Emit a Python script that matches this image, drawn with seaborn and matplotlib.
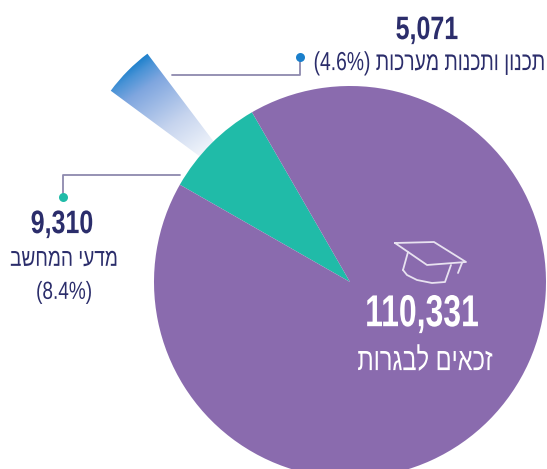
import matplotlib
matplotlib.use("Agg")
import matplotlib.pyplot as plt
from matplotlib.patches import Wedge
from matplotlib.patheffects import AbstractPathEffect
from matplotlib.transforms import Affine2D
import numpy as np
import seaborn as sns

# Data
shares = [91.6, 8.4]           # rest of the pie, computer science
highlight_share = 4.6
counts = ["110,331", "9,310", "5,071"]
names = ["זכאים לבגרות", "מדעי המחשב", "תכנון ותכנות מערכות"]
percents = ["(8.4%)", "(4.6%)"]
colors = ["#8A6BAE", "#20BBA8"]
BLUE = "#1A7FCB"
NAVY = "#2B2D6B"
LINE = "#8D89AE"

sns.set_theme(style="white")
plt.rcParams["font.family"] = ["Liberation Sans", "DejaVu Sans"]

W, H = 547, 469
fig = plt.figure(figsize=(W / 100, H / 100), dpi=100)
ax = fig.add_axes([0, 0, 1, 1])


def Y(py):
    return H - py


def vis(s):
    return s[::-1]


class Tall(AbstractPathEffect):
    """Stretch glyphs vertically about a baseline height, to mimic a condensed face."""

    def __init__(self, y0, factor):
        super().__init__()
        self.y0, self.factor = y0, factor

    def draw_path(self, renderer, gc, tpath, affine, rgbFace=None):
        tr = affine + Affine2D().translate(0, -self.y0).scale(1, self.factor).translate(0, self.y0)
        renderer.draw_path(gc, tpath, tr, rgbFace)


def label(x, py, s, size, color, bold=False, factor=1.3):
    ax.text(x, Y(py), s, color=color, fontsize=size, fontweight="bold" if bold else "normal",
            ha="center", va="center", zorder=6,
            path_effects=[Tall(Y(py), factor)])


cx, cy, R = 350, Y(282), 196
teal_start = 120
wedges, _ = ax.pie(shares[::-1], colors=colors[::-1], startangle=teal_start,
                   center=(cx, cy), radius=R, frame=True,
                   wedgeprops=dict(linewidth=0))

# exploded wedge with gradient
span = highlight_share / 100 * 360
a0, r_out = 135.3, 181
ax_, ay_ = 256.4, Y(198.2)
w = Wedge((ax_, ay_), r_out, a0 - span / 2, a0 + span / 2, fc="none", ec="none")
ax.add_patch(w)
size = 220
xs = np.linspace(-1, 1, 300)
gx, gy = np.meshgrid(xs, xs[::-1])
d = np.deg2rad(125)
t = (gx * np.cos(d) + gy * np.sin(d)) * size / r_out
stops = [0.35, 0.60, 0.85, 0.94, 1.0]
cols = np.array([matplotlib.colors.to_rgb(c) for c in ["#F4F7FC", "#C6D4EE", "#7FA6DF", "#4A93D6", BLUE]])
img = np.dstack([np.interp(t, stops, cols[:, i]) for i in range(3)])
im = ax.imshow(img, extent=[ax_ - size, ax_ + size, ay_ - size, ay_ + size],
               origin="upper", zorder=1, aspect="auto", interpolation="bilinear")
im.set_clip_path(w)
for p in wedges:
    p.set_zorder(2)

# leader lines
ax.plot([172, 300, 300], [Y(75), Y(75), Y(57)], color=LINE, lw=1.3, zorder=3)
ax.plot([180, 63, 63], [Y(174.5), Y(174.5), Y(197)], color=LINE, lw=1.3, zorder=3)
ax.scatter([300], [Y(57)], s=42, color=BLUE, zorder=4, linewidths=0)
ax.scatter([63], [Y(197)], s=42, color=colors[1], zorder=4, linewidths=0)

# mortarboard icon
IC = dict(color="#E8E2F0", lw=1.3, solid_capstyle="round", zorder=5)
ax.plot([395, 434, 466, 427, 395], [Y(243), Y(242), Y(262), Y(265), Y(243)], **IC)
ax.plot([408, 403], [Y(252), Y(270)], **IC)
body_x = [403, 407, 417, 432, 445, 451]
body_y = [270, 275, 280, 283, 282, 265]
ax.plot(body_x, [Y(v) for v in body_y], **IC)
ax.plot([462, 458], [Y(263), Y(273)], **IC)

# text
label(427, 30, counts[2], 18, NAVY, bold=True, factor=1.3)
label(429, 64, percents[1] + " " + vis(names[2]), 13.9, NAVY, factor=1.35)
label(62, 224, counts[1], 18, NAVY, bold=True, factor=1.3)
label(64, 260, vis(names[1]), 13.7, NAVY, factor=1.3)
label(64, 293, percents[0], 13.7, NAVY, factor=1.3)
label(422, 315, counts[0], 23, "white", bold=True, factor=1.4)
label(425, 362, vis(names[0]), 17, "white", factor=1.35)

ax.set_xlim(0, W)
ax.set_ylim(0, H)
ax.set_aspect("equal")
ax.axis("off")
fig.savefig("out.png", dpi=100, facecolor="white")
